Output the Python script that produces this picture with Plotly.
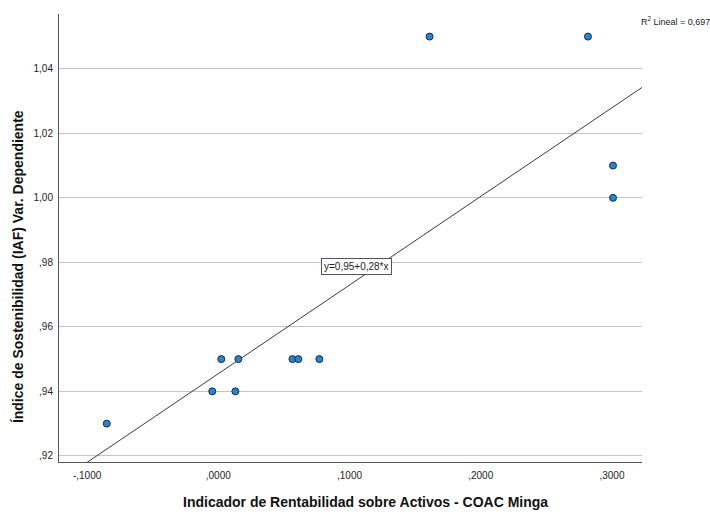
import numpy as np
import plotly.graph_objects as go

# Data
x_roa = [-0.085, -0.0046, 0.013, 0.0023, 0.0153, 0.0565, 0.061, 0.077, 0.161, 0.2817, 0.3008, 0.3008]
y_iaf = [0.93, 0.94, 0.94, 0.95, 0.95, 0.95, 0.95, 0.95, 1.05, 1.05, 1.01, 1.00]

x_tickvals = [-0.1, 0.0, 0.1, 0.2, 0.3]
x_ticktext = ["-,1000", ",0000", ",1000", ",2000", ",3000"]
y_tickvals = [0.92, 0.94, 0.96, 0.98, 1.00, 1.02, 1.04]
y_ticktext = [",92", ",94", ",96", ",98", "1,00", "1,02", "1,04"]

x_range = [-0.1214, 0.3229]
y_range = [0.9181, 1.0570]

eq_text = "y=0,95+0,28*x"
r2_text = "R<sup>2</sup> Lineal = 0,697"

# Linear fit computed from the data
slope, intercept = np.polyfit(x_roa, y_iaf, 1)
fit_x = np.array(x_range)
fit_y = intercept + slope * fit_x

FONT = "Liberation Sans Narrow, Arial Narrow, Liberation Sans, Arial, sans-serif"

fig = go.Figure()
fig.add_trace(go.Scatter(
    x=fit_x, y=fit_y, mode="lines",
    line=dict(color="#3a3a3a", width=1),
    hoverinfo="skip", showlegend=False, cliponaxis=True,
))
fig.add_trace(go.Scatter(
    x=x_roa, y=y_iaf, mode="markers",
    marker=dict(size=7, color="#1f86d8", line=dict(color="#1b2a3a", width=1)),
    showlegend=False, cliponaxis=False,
))

fig.update_layout(
    width=710, height=514,
    margin=dict(l=59, r=68, t=14, b=52),
    paper_bgcolor="white", plot_bgcolor="white",
    font=dict(family=FONT, size=10, color="#222222"),
    xaxis=dict(
        range=x_range, tickvals=x_tickvals, ticktext=x_ticktext,
        showgrid=False, zeroline=False, showline=True, linecolor="#555555", linewidth=1,
        ticks="", tickfont=dict(size=10, family=FONT, color="#222222"),
        ticklabelstandoff=4,
    ),
    yaxis=dict(
        range=y_range, tickvals=y_tickvals, ticktext=y_ticktext,
        showgrid=True, gridcolor="#c4c4c4", gridwidth=1,
        zeroline=False, showline=True, linecolor="#555555", linewidth=1,
        ticks="", tickfont=dict(size=10, family=FONT, color="#222222"),
        ticklabelstandoff=3,
    ),
    annotations=[
        dict(text="<b>Indicador de Rentabilidad sobre Activos - COAC Minga</b>",
             xref="paper", yref="paper", x=0.525, y=0, yshift=-40,
             xanchor="center", yanchor="middle", showarrow=False,
             font=dict(family=FONT, size=14, color="#111111"), textangle=0),
        dict(text="<b>Índice de Sostenibilidad (IAF) Var. Dependiente</b>",
             xref="paper", yref="paper", x=0, xshift=-41, y=0.435,
             xanchor="center", yanchor="middle", showarrow=False, textangle=-90,
             font=dict(family=FONT, size=14, color="#111111")),
        dict(text=eq_text, xref="x", yref="y", x=0.105, y=0.9787,
             xanchor="center", yanchor="middle", showarrow=False,
             bgcolor="white", bordercolor="#555555", borderwidth=1, borderpad=2,
             font=dict(family=FONT, size=10, color="#222222")),
        dict(text=r2_text, xref="paper", yref="paper", x=1, xshift=-3, y=1, yshift=-7,
             xanchor="left", yanchor="middle", showarrow=False,
             font=dict(family=FONT, size=9, color="#222222")),
    ],
)

fig.write_html("out.html", config={"displayModeBar": False},
               post_script="document.body.style.margin='0';")
